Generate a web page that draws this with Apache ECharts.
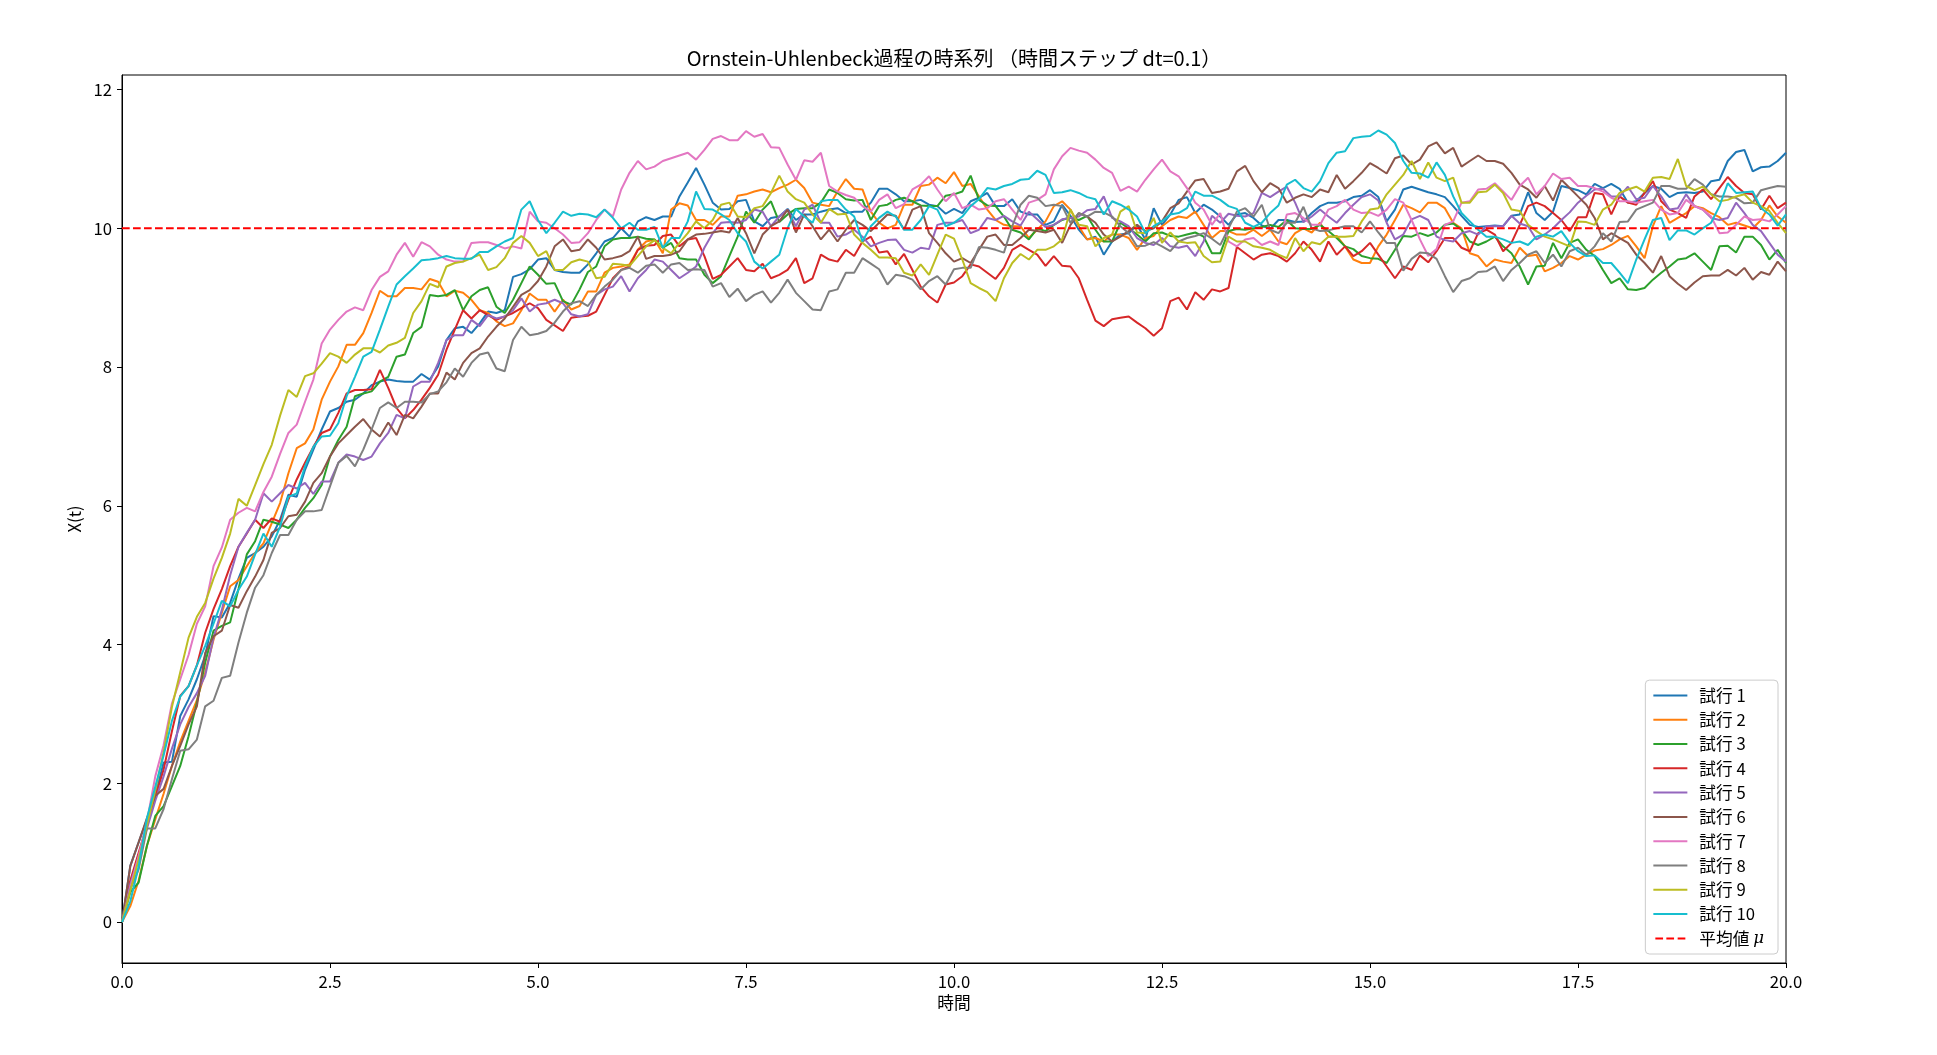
<!DOCTYPE html>
<html><head><meta charset="utf-8">
<script src="https://cdn.jsdelivr.net/npm/echarts@6/dist/echarts.min.js"></script>
<style>html,body{margin:0;padding:0;background:#fff}#c{width:1937px;height:1055px}</style>
</head><body><div id="c"></div>
<script>
const dt = 0.1;
const titleText = 'Ornstein-Uhlenbeck過程の時系列 （時間ステップ dt=0.1）';
const trialNames = ['試行 1','試行 2','試行 3','試行 4','試行 5','試行 6','試行 7','試行 8','試行 9','試行 10'];
const meanName = '平均値 μ';
const meanValue = 10;
const meanLineX = [0, 20];
const xTicks = [0, 2.5, 5, 7.5, 10, 12.5, 15, 17.5, 20];
const yTicks = [0, 2, 4, 6, 8, 10, 12];
const colors = ['#1f77b4','#ff7f0e','#2ca02c','#d62728','#9467bd','#8c564b','#e377c2','#7f7f7f','#bcbd22','#17becf'];

const trial1 = [0,0.81,1.15,1.48,1.82,2.3,2.31,2.97,3.21,3.5,
3.84,4.41,4.39,4.6,4.95,5.25,5.32,5.41,5.56,5.8,
6.16,6.13,6.52,6.81,7.1,7.36,7.41,7.5,7.53,7.62,
7.74,7.79,7.82,7.8,7.79,7.79,7.9,7.82,8.01,8.39,
8.56,8.58,8.49,8.63,8.8,8.78,8.82,9.3,9.34,9.41,
9.55,9.57,9.4,9.37,9.36,9.36,9.48,9.64,9.81,9.86,
10.0,9.88,10.1,10.16,10.12,10.17,10.17,10.46,10.66,10.87,
10.63,10.37,10.27,10.28,10.39,10.41,10.1,10.03,10.15,10.17,
10.28,10.12,10.2,10.2,10.24,10.27,10.29,10.22,10.24,10.24,
10.37,10.57,10.57,10.49,10.39,10.39,10.41,10.34,10.32,10.21,
10.28,10.22,10.39,10.44,10.51,10.32,10.32,10.42,10.24,10.2,
10.2,10.05,10.1,10.34,10.18,9.98,9.84,9.88,9.62,9.81,
9.91,9.93,10.05,9.84,10.29,10.05,10.2,10.41,10.45,10.22,
10.34,10.27,10.17,10.05,10.2,10.22,10.15,10.04,9.99,10.12,
10.12,10.09,10.1,10.22,10.32,10.37,10.37,10.39,10.45,10.47,
10.55,10.45,10.1,10.27,10.56,10.6,10.56,10.52,10.49,10.45,
10.32,10.18,10.05,10.02,10.03,10.04,10.03,10.18,10.2,10.52,
10.22,10.12,10.24,10.61,10.58,10.55,10.49,10.64,10.58,10.64,
10.57,10.37,10.39,10.51,10.61,10.57,10.45,10.51,10.52,10.51,
10.53,10.68,10.7,10.97,11.1,11.13,10.82,10.88,10.89,10.97,
11.09];

const trial2 = [0,0.23,0.6,1.1,1.48,1.85,2.25,2.6,2.9,3.2,
3.6,4.07,4.46,4.84,4.93,5.13,5.32,5.46,5.75,6.04,
6.47,6.83,6.9,7.1,7.53,7.79,8.01,8.32,8.32,8.49,
8.78,9.1,9.02,9.02,9.14,9.14,9.12,9.27,9.23,9.02,
9.1,9.07,8.97,8.82,8.78,8.66,8.59,8.63,8.82,9.06,
8.97,8.97,8.8,8.97,8.83,8.88,9.09,9.09,9.36,9.43,
9.45,9.48,9.69,9.81,9.84,9.64,10.27,10.36,10.33,10.12,
10.12,10.05,10.17,10.17,10.47,10.49,10.53,10.56,10.52,10.58,
10.63,10.7,10.58,10.37,10.34,10.32,10.53,10.71,10.57,10.56,
10.24,10.08,10.0,10.05,10.34,10.34,10.61,10.63,10.73,10.65,
10.81,10.61,10.64,10.46,10.27,10.12,10.05,10.03,10.03,9.86,
9.98,10.1,10.32,10.39,10.27,10.03,9.84,9.86,9.81,9.91,
9.91,9.86,9.69,9.86,9.89,10.03,10.12,10.17,10.15,10.24,
10.05,9.86,9.96,9.96,9.91,9.91,9.98,9.89,9.98,9.81,
9.77,9.93,10.0,9.94,10.08,9.88,9.89,9.74,9.55,9.5,
9.5,9.74,9.91,10.12,10.34,10.29,10.23,10.37,10.37,10.29,
10.08,10.0,9.64,9.6,9.45,9.55,9.52,9.5,9.72,9.6,
9.62,9.38,9.43,9.5,9.6,9.55,9.62,9.68,9.7,9.76,
9.84,9.89,9.74,9.57,10.03,10.32,10.08,10.15,10.22,10.32,
10.29,10.22,10.16,10.05,10.08,10.04,10.0,10.12,10.33,10.17,
10.08];

const trial3 = [0,0.43,0.57,1.1,1.53,1.67,1.96,2.25,2.68,3.16,
3.74,4.2,4.27,4.32,4.8,5.3,5.49,5.8,5.77,5.73,
5.68,5.8,5.97,6.11,6.3,6.71,6.95,7.14,7.58,7.62,
7.65,7.79,7.86,8.15,8.18,8.49,8.58,9.04,9.02,9.04,
9.11,8.82,9.02,9.11,9.15,8.87,8.78,8.97,9.21,9.45,
9.33,9.2,9.21,8.95,8.9,9.12,9.37,9.45,9.74,9.84,
9.86,9.86,9.88,9.85,9.84,9.72,9.79,9.57,9.55,9.55,
9.33,9.21,9.31,9.6,9.88,10.24,10.08,10.27,10.39,10.09,
10.2,10.28,10.29,10.29,10.37,10.56,10.51,10.42,10.4,10.41,
10.12,10.32,10.34,10.41,10.44,10.39,10.33,10.32,10.32,10.47,
10.49,10.53,10.76,10.41,10.33,10.32,10.17,9.98,9.94,9.84,
10.0,9.96,10.05,10.12,10.16,10.12,10.18,9.98,9.81,9.81,
10.08,10.0,9.91,9.81,9.93,9.94,9.89,9.88,9.91,9.94,
9.88,9.64,9.64,9.96,9.99,9.98,10.0,10.02,10.05,10.02,
10.12,10.0,9.99,9.99,10.05,9.96,9.86,9.74,9.7,9.6,
9.57,9.56,9.5,9.69,9.89,9.88,9.93,9.89,9.94,10.05,
10.07,9.98,9.81,9.76,9.81,9.88,9.74,9.64,9.45,9.19,
9.45,9.46,9.79,9.57,9.79,9.84,9.69,9.6,9.4,9.21,
9.28,9.12,9.11,9.14,9.26,9.36,9.45,9.55,9.57,9.64,
9.52,9.4,9.74,9.75,9.65,9.88,9.88,9.76,9.55,9.69,
9.5];

const trial4 = [0,0.6,1.0,1.4,1.8,2.2,2.75,3.26,3.4,3.7,
4.17,4.51,4.8,5.13,5.41,5.6,5.8,5.68,5.82,5.77,
6.09,6.38,6.62,6.85,7.05,7.1,7.34,7.62,7.67,7.67,
7.68,7.96,7.7,7.41,7.26,7.38,7.53,7.7,7.89,8.25,
8.54,8.82,8.7,8.82,8.75,8.68,8.73,8.78,8.85,8.92,
8.85,8.68,8.6,8.52,8.71,8.73,8.74,8.8,9.04,9.28,
9.4,9.45,9.69,9.75,9.76,9.89,9.91,9.74,9.84,9.86,
9.6,9.27,9.33,9.45,9.57,9.4,9.38,9.49,9.28,9.33,
9.4,9.57,9.21,9.28,9.62,9.55,9.52,9.69,9.6,9.81,
9.88,9.65,9.67,9.48,9.63,9.4,9.16,9.02,8.93,9.19,
9.22,9.31,9.48,9.45,9.36,9.27,9.43,9.69,9.76,9.69,
9.62,9.46,9.6,9.46,9.45,9.28,8.97,8.67,8.59,8.69,
8.71,8.73,8.64,8.56,8.45,8.56,8.95,9.0,8.83,9.08,
8.97,9.12,9.09,9.14,9.73,9.64,9.55,9.62,9.64,9.6,
9.52,9.64,9.81,9.69,9.52,9.81,9.62,9.74,9.6,9.67,
9.79,9.62,9.45,9.28,9.45,9.4,9.61,9.51,9.67,9.86,
9.86,9.72,9.67,9.93,9.98,9.91,9.67,9.79,10.05,10.32,
10.37,10.32,10.22,10.12,9.96,10.16,10.16,10.51,10.49,10.2,
10.46,10.37,10.34,10.51,10.68,10.39,10.27,10.22,10.15,10.46,
10.56,10.42,10.58,10.74,10.61,10.51,10.49,10.27,10.47,10.29,
10.37];

const trial5 = [0,0.55,0.95,1.35,1.75,2.1,2.5,2.85,3.1,3.3,
3.55,4.1,4.5,5.0,5.41,5.61,5.8,6.18,6.06,6.18,
6.3,6.25,6.33,6.17,6.35,6.35,6.62,6.74,6.71,6.66,
6.71,6.9,7.05,7.31,7.26,7.72,7.79,7.79,8.06,8.39,
8.46,8.46,8.68,8.59,8.75,8.7,8.73,8.82,8.99,8.8,
8.9,8.92,8.97,8.92,8.76,8.73,8.76,9.04,9.12,9.16,
9.31,9.09,9.28,9.4,9.55,9.52,9.4,9.28,9.36,9.45,
9.72,9.93,10.08,10.09,10.08,10.12,10.27,10.24,10.03,10.17,
10.27,10.03,10.27,10.34,10.08,10.08,9.88,9.91,9.98,9.88,
9.74,9.79,9.83,9.84,9.69,9.65,9.72,9.7,10.05,10.08,
10.08,10.12,9.93,9.98,10.15,10.12,10.18,10.1,10.04,10.24,
10.13,10.02,10.05,10.13,10.15,10.17,10.26,10.28,10.46,10.15,
10.1,10.03,9.86,9.79,9.76,9.86,9.74,9.72,9.75,9.6,
9.81,10.18,10.08,10.21,10.18,10.17,10.22,10.51,10.45,10.53,
10.6,10.37,10.09,10.17,10.27,10.17,10.08,10.22,10.34,10.45,
10.49,10.4,10.08,9.84,9.91,10.13,10.18,10.12,9.88,9.83,
9.81,9.93,9.96,9.91,10.03,10.03,10.03,10.18,10.07,10.03,
9.84,9.91,10.0,10.12,10.23,10.37,10.47,10.56,10.57,10.46,
10.46,10.6,10.42,10.44,10.61,10.46,10.27,10.29,10.49,10.32,
10.27,10.15,10.12,10.15,10.37,10.22,10.05,9.96,9.79,9.62,
9.52];

const trial6 = [0,0.81,1.15,1.5,1.82,1.92,2.25,2.54,2.85,3.11,
3.88,4.12,4.2,4.57,4.53,4.77,4.98,5.22,5.61,5.68,
5.85,5.87,6.06,6.33,6.47,6.71,6.9,7.02,7.14,7.25,
7.1,7.0,7.2,7.02,7.31,7.26,7.43,7.62,7.62,7.92,
7.82,8.06,8.2,8.27,8.44,8.58,8.7,8.87,9.04,9.11,
9.24,9.45,9.74,9.84,9.67,9.69,9.84,9.72,9.55,9.57,
9.6,9.67,9.88,9.56,9.6,9.6,9.62,9.67,9.84,9.91,
9.92,9.94,9.96,9.94,10.15,9.93,9.64,9.91,10.03,10.1,
10.27,9.94,10.2,10.03,9.84,9.98,9.81,9.98,10.12,10.05,
9.96,10.08,10.2,10.18,9.98,10.27,10.32,9.93,9.79,9.64,
9.52,9.57,9.5,9.69,9.88,9.91,9.76,9.76,9.86,9.98,
9.96,9.94,9.98,9.79,10.05,10.22,10.17,10.08,9.91,9.81,
9.88,9.96,10.05,9.96,10.0,10.1,10.29,10.36,10.53,10.69,
10.71,10.51,10.53,10.57,10.82,10.9,10.68,10.52,10.65,10.58,
10.37,10.44,10.49,10.45,10.56,10.52,10.77,10.57,10.68,10.8,
10.94,10.87,10.79,11.01,11.05,10.92,10.99,11.18,11.24,11.08,
11.16,10.89,10.97,11.05,10.97,10.97,10.93,10.8,10.63,10.56,
10.44,10.61,10.4,10.7,10.58,10.46,10.34,10.15,9.84,9.93,
9.86,9.79,9.62,9.5,9.36,9.6,9.31,9.2,9.11,9.22,
9.31,9.32,9.32,9.4,9.32,9.43,9.26,9.37,9.33,9.52,
9.38];

const trial7 = [0,0.5,0.95,1.45,2.1,2.55,3.15,3.5,3.85,4.3,
4.55,5.13,5.4,5.8,5.9,5.97,5.92,6.2,6.42,6.75,
7.05,7.17,7.5,7.82,8.34,8.54,8.68,8.8,8.86,8.82,
9.11,9.3,9.38,9.62,9.79,9.59,9.8,9.74,9.62,9.55,
9.52,9.52,9.79,9.8,9.8,9.76,9.71,9.74,9.71,10.24,
10.1,10.08,10.0,9.91,9.79,9.8,9.93,10.12,10.27,10.17,
10.56,10.8,10.97,10.85,10.89,10.97,11.01,11.05,11.09,10.99,
11.13,11.29,11.33,11.27,11.27,11.4,11.32,11.36,11.17,11.16,
10.92,10.7,10.98,10.96,11.09,10.61,10.53,10.48,10.44,10.32,
10.24,10.41,10.49,10.29,10.35,10.56,10.63,10.75,10.56,10.39,
10.51,10.29,10.34,10.27,10.29,10.39,10.42,10.27,10.12,10.37,
10.41,10.49,10.85,11.04,11.16,11.12,11.09,10.99,10.87,10.8,
10.54,10.6,10.53,10.7,10.85,10.99,10.82,10.75,10.58,10.37,
10.27,10.05,10.22,9.81,9.74,9.84,9.86,9.76,9.81,9.76,
10.2,10.22,10.15,10.05,10.05,10.27,10.32,10.41,10.27,10.22,
10.23,10.18,10.27,10.42,10.37,10.12,9.84,9.6,9.7,10.05,
10.1,10.37,10.39,10.56,10.57,10.65,10.53,10.41,10.61,10.73,
10.49,10.61,10.79,10.71,10.73,10.61,10.61,10.58,10.53,10.44,
10.39,10.39,10.37,10.39,10.41,10.27,10.2,10.22,10.41,10.32,
10.27,10.17,9.93,9.94,10.05,10.17,10.12,10.13,10.1,10.2,
10.32];

const trial8 = [0,0.47,0.76,1.35,1.35,1.63,2.06,2.47,2.49,2.63,
3.11,3.19,3.52,3.55,4.03,4.46,4.82,5.0,5.32,5.58,
5.58,5.8,5.92,5.92,5.94,6.28,6.62,6.72,6.57,6.81,
7.1,7.41,7.49,7.41,7.5,7.5,7.49,7.61,7.65,7.78,
7.98,7.86,8.06,8.18,8.21,7.98,7.94,8.39,8.58,8.46,
8.48,8.52,8.64,8.8,8.92,8.95,8.88,9.04,9.16,9.26,
9.4,9.43,9.36,9.46,9.48,9.36,9.48,9.5,9.4,9.41,
9.4,9.16,9.21,9.01,9.13,8.95,9.04,9.09,8.93,9.07,
9.26,9.07,8.95,8.83,8.82,9.09,9.12,9.36,9.36,9.57,
9.49,9.41,9.19,9.33,9.31,9.26,9.12,9.24,9.31,9.19,
9.41,9.43,9.43,9.73,9.72,9.69,9.65,10.03,10.34,10.47,
10.44,10.32,10.34,10.32,10.08,10.22,10.17,10.24,10.23,10.17,
10.03,9.93,9.74,9.75,9.8,9.74,9.67,9.81,9.86,9.89,
9.93,9.85,9.76,10.0,10.24,10.29,10.17,10.34,9.98,9.93,
10.08,10.08,10.31,10.0,9.96,9.97,10.0,10.03,10.03,9.94,
10.1,9.94,9.79,9.79,9.39,9.56,9.65,9.64,9.56,9.31,
9.08,9.24,9.28,9.37,9.38,9.45,9.24,9.4,9.5,9.62,
9.67,9.5,9.62,9.45,9.67,9.72,9.62,9.74,9.93,9.81,
10.09,10.1,10.27,10.32,10.37,10.61,10.61,10.57,10.57,10.71,
10.63,10.49,10.46,10.46,10.44,10.36,10.37,10.55,10.58,10.61,
10.6];

const trial9 = [0,0.45,0.9,1.4,1.9,2.45,3.1,3.6,4.1,4.4,
4.6,4.95,5.25,5.6,6.1,6.0,6.3,6.6,6.88,7.3,
7.67,7.57,7.87,7.91,8.05,8.2,8.15,8.06,8.18,8.27,
8.27,8.21,8.31,8.35,8.42,8.78,8.95,9.2,9.15,9.45,
9.5,9.52,9.57,9.62,9.4,9.44,9.57,9.79,9.89,9.79,
9.6,9.67,9.4,9.4,9.51,9.55,9.52,9.28,9.3,9.49,
9.48,9.46,9.6,9.74,9.83,9.72,9.64,9.79,9.93,10.1,
10.0,10.12,10.34,10.37,10.17,10.16,10.29,10.32,10.51,10.76,
10.53,10.42,10.37,10.2,10.08,10.28,10.2,10.21,9.91,9.79,
9.69,9.58,9.58,9.57,9.36,9.32,9.48,9.33,9.62,9.91,
9.85,9.55,9.21,9.14,9.08,8.95,9.28,9.5,9.63,9.55,
9.69,9.69,9.74,9.84,10.27,10.05,10.03,9.74,9.86,9.91,
10.24,10.32,9.94,9.93,10.15,9.79,9.94,9.81,9.79,9.8,
9.6,9.51,9.52,9.88,9.81,9.81,9.74,9.72,9.69,9.62,
9.57,9.86,9.67,9.8,9.77,9.88,9.88,9.88,9.89,10.1,
10.27,10.29,10.49,10.63,10.77,10.97,10.71,10.95,10.73,10.68,
10.73,10.37,10.37,10.52,10.53,10.63,10.51,10.27,10.25,10.05,
9.96,9.88,9.84,9.79,9.74,10.1,10.09,10.05,10.27,10.34,
10.51,10.56,10.6,10.53,10.73,10.74,10.71,11.0,10.61,10.55,
10.6,10.49,10.39,10.41,10.46,10.49,10.37,10.32,10.25,10.08,
9.93];

const trial10 = [0,0.3,0.8,1.5,1.95,2.4,2.9,3.25,3.4,3.7,
3.98,4.3,4.63,4.55,4.79,4.98,5.3,5.6,5.41,5.7,
6.13,6.18,6.57,6.85,7.0,7.01,7.19,7.58,7.86,8.15,
8.22,8.54,8.87,9.19,9.31,9.42,9.54,9.55,9.57,9.6,
9.57,9.56,9.56,9.66,9.66,9.74,9.81,9.86,10.27,10.39,
10.12,9.93,10.08,10.24,10.18,10.21,10.2,10.16,10.27,10.15,
10.0,10.08,9.98,9.98,10.02,9.72,9.86,9.86,10.1,10.53,
10.28,10.27,10.2,10.12,9.93,9.81,9.52,9.42,9.52,9.62,
10.0,10.28,10.17,10.08,10.39,10.41,10.41,10.27,10.17,9.81,
10.03,10.15,10.24,10.17,9.98,9.98,10.12,10.32,10.27,10.03,
10.08,10.17,10.32,10.42,10.58,10.56,10.61,10.64,10.7,10.71,
10.83,10.77,10.51,10.52,10.55,10.51,10.45,10.42,10.2,10.39,
10.34,10.27,10.17,9.93,10.03,10.1,10.2,10.22,10.29,10.53,
10.47,10.47,10.41,10.32,10.28,10.08,10.02,10.08,10.22,10.33,
10.63,10.7,10.58,10.53,10.68,10.94,11.09,11.11,11.3,11.32,
11.33,11.41,11.35,11.23,10.97,10.8,10.79,10.73,10.95,10.77,
10.46,10.22,10.1,9.98,9.88,9.88,9.84,9.79,9.81,9.76,
9.88,9.91,9.88,9.96,9.79,9.67,9.6,9.61,9.5,9.5,
9.36,9.21,9.55,9.84,10.12,10.15,9.83,9.97,9.97,9.91,
10.0,10.08,10.32,10.65,10.51,10.52,10.53,10.29,10.2,10.04,
10.2];

const FONT = '"Noto Sans CJK JP", "Noto Sans", sans-serif';
const trials = [trial1, trial2, trial3, trial4, trial5, trial6, trial7, trial8, trial9, trial10];
const times = trial1.map((_, i) => Math.round(i * dt * 10) / 10);

const series = trials.map((vals, k) => ({
  name: trialNames[k],
  type: 'line',
  data: vals.map((v, i) => [times[i], v]),
  showSymbol: false,
  symbol: 'none',
  lineStyle: { color: colors[k], width: 2 },
  itemStyle: { color: colors[k] },
  animation: false
}));
series.push({
  name: meanName,
  type: 'line',
  data: meanLineX.map(x => [x, meanValue]),
  showSymbol: false,
  symbol: 'none',
  lineStyle: { color: '#ff0000', width: 2, type: [7.7, 3.3] },
  itemStyle: { color: '#ff0000' },
  animation: false
});

const chart = echarts.init(document.getElementById('c'), null, { renderer: 'canvas', width: 1937, height: 1055 });
chart.setOption({
  animation: false,
  backgroundColor: '#ffffff',
  title: {
    text: titleText,
    left: 954,
    top: 48,
    padding: 0,
    textAlign: 'center',
    textStyle: { fontFamily: FONT, fontSize: 20, fontWeight: 'normal', color: '#000' }
  },
  grid: {
    left: 122, right: 151, top: 75, bottom: 92,
    show: true, borderColor: '#000', borderWidth: 1, backgroundColor: 'transparent'
  },
  legend: {
    orient: 'vertical',
    right: 159,
    bottom: 101,
    itemWidth: 34,
    itemHeight: 2,
    itemGap: 7.6,
    padding: [7, 14, 7, 8],
    borderColor: '#cccccc',
    borderWidth: 1,
    borderRadius: 4,
    backgroundColor: 'rgba(255,255,255,0.85)',
    textStyle: {
      fontFamily: FONT, fontSize: 16.7, color: '#000', padding: [0, 0, 0, 7],
      rich: { mu: { fontFamily: '"DejaVu Serif", serif', fontStyle: 'italic', fontSize: 16.7, color: '#000' } }
    },
    formatter: n => (n === meanName ? '平均値 {mu|μ}' : n),
    data: trialNames.map(n => ({ name: n, icon: 'rect' })).concat([
      { name: meanName, icon: 'path://M0,0h7.7v2h-7.7zM11,0h7.7v2h-7.7zM22.3,0h7.7v2h-7.7z' }
    ])
  },
  xAxis: {
    type: 'value',
    min: 0, max: 20, interval: 2.5,
    name: '時間', nameLocation: 'middle', nameGap: 28.5,
    nameTextStyle: { fontFamily: FONT, fontSize: 16.7, color: '#000' },
    axisLine: { show: true, onZero: false, lineStyle: { color: '#000', width: 1 } },
    axisTick: { show: true, length: 5, lineStyle: { color: '#000', width: 1 }, customValues: xTicks },
    axisLabel: { margin: 10, fontFamily: FONT, fontSize: 16.7, color: '#000', formatter: v => v.toFixed(1), customValues: xTicks },
    splitLine: { show: false }
  },
  yAxis: {
    type: 'value',
    min: -0.59, max: 12.21,
    name: 'X(t)', nameLocation: 'middle', nameGap: 37, nameRotate: 90,
    nameTextStyle: { fontFamily: FONT, fontSize: 16.7, color: '#000' },
    axisLine: { show: true, onZero: false, lineStyle: { color: '#000', width: 1 } },
    axisTick: { show: true, length: 5, lineStyle: { color: '#000', width: 1 }, customValues: yTicks },
    axisLabel: { margin: 10, fontFamily: FONT, fontSize: 16.7, color: '#000', customValues: yTicks },
    splitLine: { show: false }
  },
  series: series
});
</script>
</body></html>
